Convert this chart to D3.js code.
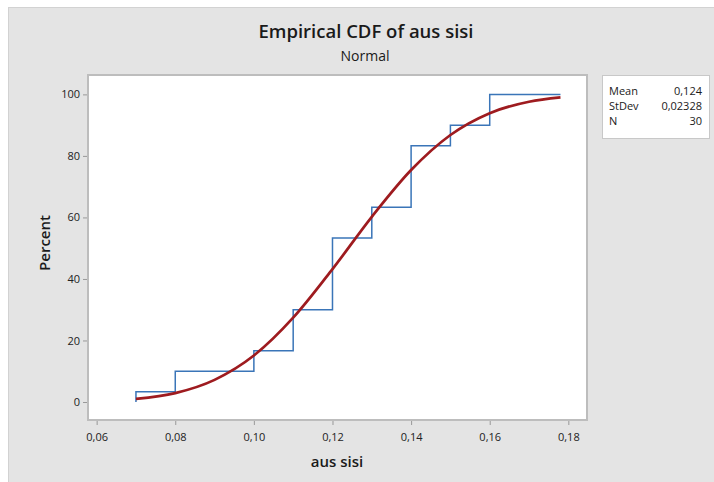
<!DOCTYPE html>
<html>
<head>
<meta charset="utf-8">
<script src="https://cdn.jsdelivr.net/npm/d3@7"></script>
<style>
  body { margin: 0; background: #fff; }
  text { font-family: "Open Sans", "Noto Sans", sans-serif; }
</style>
</head>
<body>
<div id="root"></div>
<script>
// sample values (distinct values and how often they occur), N = 30
var values = [0.07, 0.08, 0.10, 0.11, 0.12, 0.13, 0.14, 0.15, 0.16];
var counts = [1, 2, 2, 4, 7, 3, 6, 2, 3];
var lastX = 0.178;

// fitted normal curve
var fitX = [0.07, 0.08, 0.09, 0.10, 0.11, 0.12, 0.13, 0.14, 0.15, 0.16, 0.17, 0.178];
var fitY = [1.0, 2.9, 7.2, 15.1, 27.4, 43.2, 60.2, 75.4, 86.8, 93.9, 97.6, 99.0];

var xTicks = [0.06, 0.08, 0.10, 0.12, 0.14, 0.16, 0.18];
var yTicks = [0, 20, 40, 60, 80, 100];
var statNames = ["Mean", "StDev", "N"];
var statValues = ["0,124", "0,02328", "30"];

var W = 714, H = 482;
var margin = {top: 75, right: 127, bottom: 62, left: 88},
    width = W - margin.left - margin.right,
    height = H - margin.top - margin.bottom;

var svg = d3.select("#root")
  .append("svg")
  .attr("width", W)
  .attr("height", H);

// grey panel
svg.append("rect")
  .attr("x", 8.5).attr("y", 7.5)
  .attr("width", W - 8).attr("height", H - 7)
  .attr("fill", "#e4e4e4")
  .attr("stroke", "#d2d2d2");

svg.append("text")
  .attr("x", 366).attr("y", 38)
  .attr("text-anchor", "middle")
  .attr("font-size", 18.5)
  .attr("font-weight", 600)
  .attr("fill", "#1a1a1a")
  .text("Empirical CDF of aus sisi");
svg.append("text")
  .attr("x", 365).attr("y", 61)
  .attr("text-anchor", "middle")
  .attr("font-size", 14)
  .attr("font-weight", 500)
  .attr("fill", "#1a1a1a")
  .text("Normal");

var g = svg.append("g")
  .attr("transform", "translate(" + margin.left + "," + margin.top + ")");

var x = d3.scaleLinear().domain([0.0578, 0.18475]).range([0, width]);
var y = d3.scaleLinear().domain([-5.85, 106.3]).range([height, 0]);

g.append("rect")
  .attr("width", width).attr("height", height)
  .attr("fill", "#fff")
  .attr("stroke", "#bdbdbd")
  .attr("stroke-width", 2);

var fmt = function (d) { return d3.format(".2f")(d).replace(".", ","); };

var xAxis = g.append("g")
  .attr("transform", "translate(0," + (height + 1) + ")")
  .call(d3.axisBottom(x).tickValues(xTicks).tickFormat(fmt).tickSize(4).tickSizeOuter(0));
var yAxis = g.append("g")
  .attr("transform", "translate(-1,0)")
  .call(d3.axisLeft(y).tickValues(yTicks).tickSize(4).tickSizeOuter(0));

[xAxis, yAxis].forEach(function (a) {
  a.select(".domain").remove();
  a.selectAll("line").attr("stroke", "#999");
  a.selectAll("text")
    .attr("font-size", 11)
    .attr("font-weight", 500)
    .attr("fill", "#222")
    .style("font-family", '"Open Sans", sans-serif');
});
xAxis.selectAll("text").attr("dy", "1.2em");

// empirical CDF steps
var steps = [];
var cum = 0;
values.forEach(function (v, i) {
  steps.push([v, cum / 30 * 100]);
  cum += counts[i];
  steps.push([v, cum / 30 * 100]);
});
steps.push([lastX, 100]);

var line = d3.line()
  .x(function (d) { return x(d[0]); })
  .y(function (d) { return y(d[1]); });

g.append("path")
  .datum(steps)
  .attr("d", line)
  .attr("fill", "none")
  .attr("stroke", "#3a75b8")
  .attr("stroke-width", 1.5);

g.append("path")
  .datum(fitX.map(function (v, i) { return [v, fitY[i]]; }))
  .attr("d", line.curve(d3.curveMonotoneX))
  .attr("fill", "none")
  .attr("stroke", "#9e1b1f")
  .attr("stroke-width", 2.7);

svg.append("text")
  .attr("transform", "translate(50,243) rotate(-90)")
  .attr("text-anchor", "middle")
  .attr("font-size", 15)
  .attr("font-weight", 600)
  .attr("fill", "#1a1a1a")
  .text("Percent");
svg.append("text")
  .attr("x", 337).attr("y", 467)
  .attr("text-anchor", "middle")
  .attr("font-size", 15)
  .attr("font-weight", 600)
  .attr("fill", "#1a1a1a")
  .text("aus sisi");

// stats box
var box = svg.append("g").attr("transform", "translate(602,75)");
box.append("rect")
  .attr("x", 0.5).attr("y", 0.5)
  .attr("width", 107).attr("height", 63)
  .attr("fill", "#fff")
  .attr("stroke", "#c8c8c8");
statNames.forEach(function (n, i) {
  box.append("text")
    .attr("x", 7).attr("y", 20 + i * 15)
    .attr("font-size", 11)
    .attr("fill", "#1a1a1a")
    .text(n);
  box.append("text")
    .attr("x", 100).attr("y", 20 + i * 15)
    .attr("text-anchor", "end")
    .attr("font-size", 11)
    .attr("fill", "#1a1a1a")
    .text(statValues[i]);
});
</script>
</body>
</html>
